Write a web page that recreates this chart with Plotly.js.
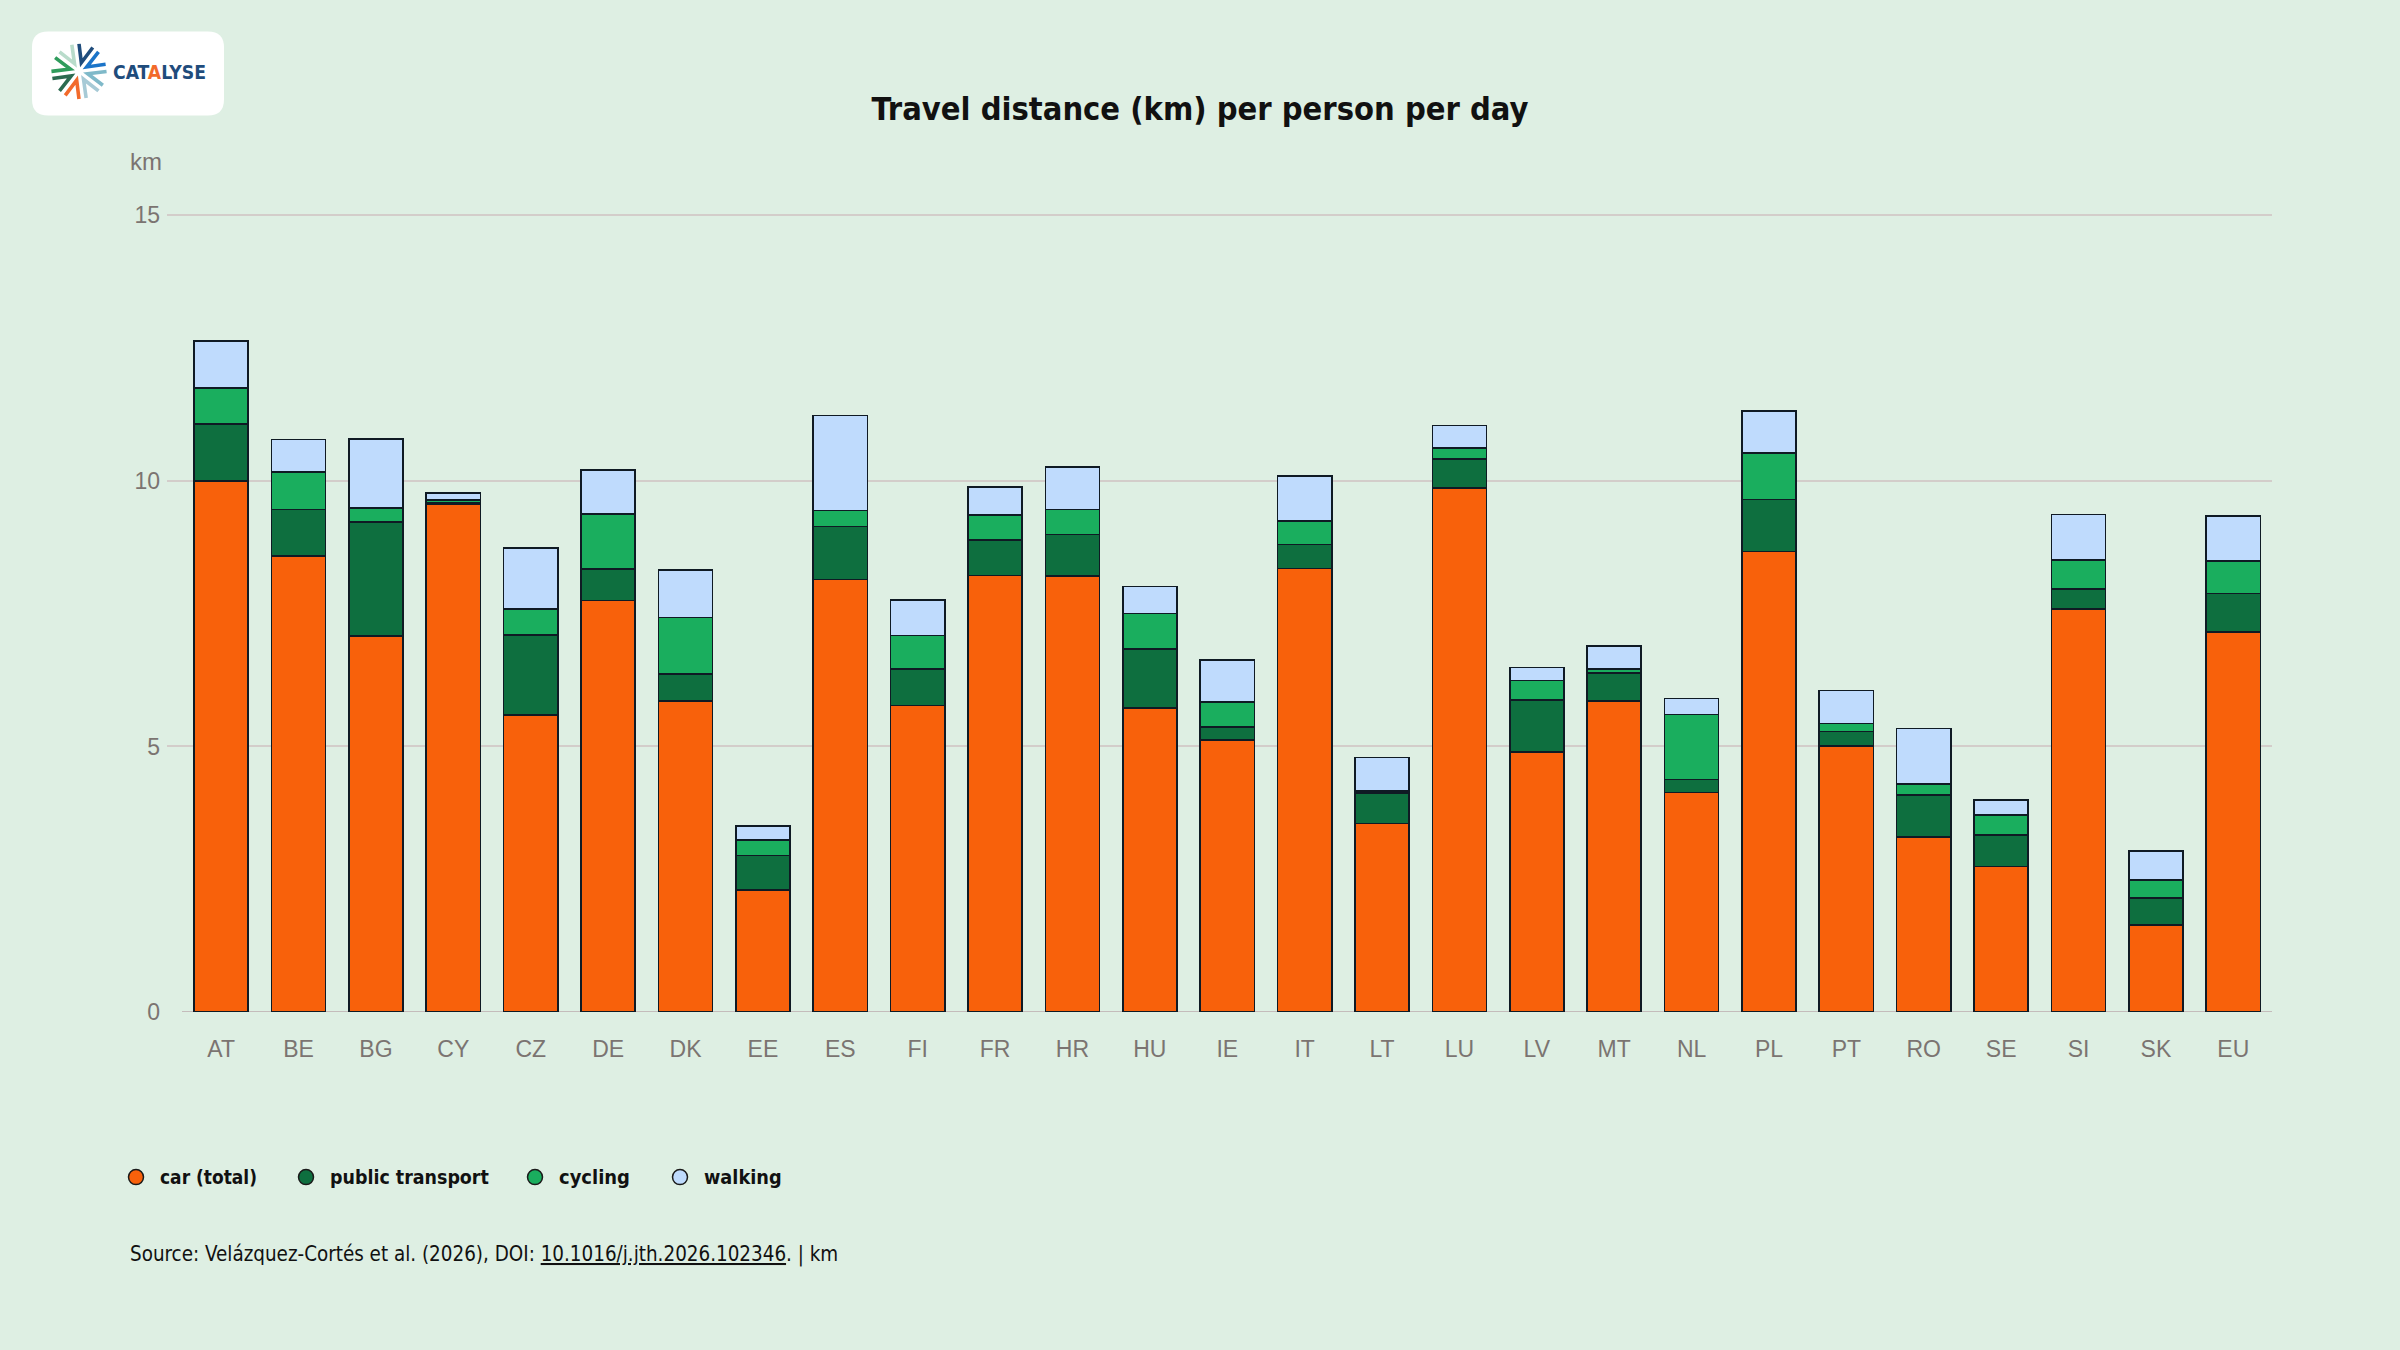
<!DOCTYPE html>
<html>
<head>
<meta charset="utf-8">
<script src="https://cdn.plot.ly/plotly-3.0.1.min.js"></script>
<style>
  html, body { margin: 0; padding: 0; background: #deefe3; }
  #chart { width: 2400px; height: 1350px; }
</style>
</head>
<body>
<div id="chart"></div>
<script>
// ---------- data ----------
const countries = ["AT","BE","BG","CY","CZ","DE","DK","EE","ES","FI","FR","HR","HU","IE","IT","LT","LU","LV","MT","NL","PL","PT","RO","SE","SI","SK","EU"];
const car       = [10.00,8.59,7.08,9.56,5.59,7.75,5.85,2.30,8.14,5.77,8.22,8.21,5.72,5.12,8.35,3.55,9.87,4.90,5.86,4.13,8.67,5.01,3.29,2.74,7.59,1.64,7.16];
const publicTr  = [1.07,0.87,2.15,0.03,1.51,0.59,0.51,0.65,1.00,0.69,0.67,0.78,1.12,0.25,0.45,0.57,0.54,0.97,0.52,0.25,0.98,0.27,0.80,0.59,0.37,0.51,0.72];
const cycling   = [0.68,0.71,0.26,0.05,0.49,1.04,1.07,0.29,0.30,0.63,0.47,0.47,0.66,0.47,0.45,0.04,0.21,0.37,0.08,1.22,0.87,0.15,0.20,0.38,0.55,0.33,0.61];
const walking   = [0.88,0.61,1.30,0.13,1.15,0.83,0.89,0.26,1.79,0.67,0.53,0.80,0.51,0.79,0.84,0.63,0.42,0.25,0.43,0.30,0.80,0.62,1.05,0.28,0.86,0.55,0.85];
const seriesNames = ["car (total)","public transport","cycling","walking"];
const yTicks = [0,5,10,15];
const titleText = "Travel distance (km) per person per day";
const unitLabel = "km";
const sourcePre = "Source: Velázquez-Cortés et al. (2026), DOI: ";
const sourceDoi = "10.1016/j.jth.2026.102346";
const sourcePost = ". | km";
const logoText = ["CAT", "A", "LYSE"];

// ---------- fonts ----------
const ctx = document.createElement("canvas").getContext("2d");
function hasFont(f) {
  const s = "abcdefghijklmnopqrstuvwxyzABCDEFGHIJ0123456789";
  for (const fb of ["monospace", "serif"]) {
    ctx.font = "40px " + fb; const a = ctx.measureText(s).width;
    ctx.font = '40px "' + f + '", ' + fb; const b = ctx.measureText(s).width;
    if (Math.abs(a - b) > 0.5) return true;
  }
  return false;
}
const narrowName = ["Liberation Sans Narrow", "DejaVu Sans Condensed", "Roboto"].find(hasFont) || "sans-serif";
const NARROW = narrowName + ", sans-serif";
const SANS = "Liberation Sans, Arial, sans-serif";
function fitSize(text, weight, target) {
  ctx.font = weight + " 100px " + (narrowName === "sans-serif" ? "sans-serif" : '"' + narrowName + '", sans-serif');
  return 100 * target / ctx.measureText(text).width;
}

// ---------- style ----------
const colors = ["#f8610b","#0e6f3f","#1aae5e","#bfdbfd"];
const BG = "#deefe3";
const W = 2400, H = 1350;
const Y0PX = 1012, Y15PX = 215.8, YTOP = 15.1;
const ML = 167, MR = 128, MB = H - Y0PX;
const MT = Y0PX - (Y0PX - Y15PX) * YTOP / 15;
const PW = W - ML - MR, PH = H - MT - MB;
const px = x => (x - ML) / PW;
const py = y => 1 - (y - MT) / PH;

const seriesData = [car, publicTr, cycling, walking];
const traces = seriesData.map((vals, i) => ({
  type: "bar",
  name: seriesNames[i],
  x: countries,
  y: vals,
  marker: { color: colors[i], line: { color: "#0f1a24", width: 1.6 } },
  showlegend: false,
  hoverinfo: "x+y+name"
}));

// ---------- logo shapes ----------
const shapes = [];
(function(){
  const x0 = 32, y0 = 32, x1 = 224, y1 = 116, r = 16;
  const p = (x, y) => px(x) + "," + py(y);
  const d = "M " + p(x0 + r, y0) + " L " + p(x1 - r, y0) + " Q " + p(x1, y0) + " " + p(x1, y0 + r) +
            " L " + p(x1, y1 - r) + " Q " + p(x1, y1) + " " + p(x1 - r, y1) +
            " L " + p(x0 + r, y1) + " Q " + p(x0, y1) + " " + p(x0, y1 - r) +
            " L " + p(x0, y0 + r) + " Q " + p(x0, y0) + " " + p(x0 + r, y0) + " Z";
  shapes.push({ type: "path", xref: "paper", yref: "paper", path: d, fillcolor: "#ffffff", line: { width: 0 }, layer: "above" });
})();
const chevrons = [
  { a: 15,  c: "#7fb9c9" },
  { a: 60,  c: "#a7cad6" },
  { a: 105, c: "#f26a2b" },
  { a: 150, c: "#2b6a50" },
  { a: 195, c: "#2f9c5c" },
  { a: 240, c: "#b9dccb" },
  { a: 285, c: "#1f4c7c" },
  { a: 330, c: "#1b74c8" }
];
const LC = { x: 79, y: 72 };
chevrons.forEach(ch => {
  const t = ch.a * Math.PI / 180, ra = 9, L = 19, phi = 22 * Math.PI / 180;
  const ax = LC.x + ra * Math.cos(t), ay = LC.y + ra * Math.sin(t);
  const e1x = ax + L * Math.cos(t + phi), e1y = ay + L * Math.sin(t + phi);
  const e2x = ax + L * Math.cos(t - phi), e2y = ay + L * Math.sin(t - phi);
  const d = "M " + px(e1x) + "," + py(e1y) + " L " + px(ax) + "," + py(ay) + " L " + px(e2x) + "," + py(e2y);
  shapes.push({ type: "path", xref: "paper", yref: "paper", path: d, line: { color: ch.c, width: 3.6 }, layer: "above" });
});
shapes.push({ type: "line", xref: "paper", yref: "y", x0: px(182), x1: 1, y0: 0, y1: 0, line: { color: "#c4bcbb", width: 2 }, layer: "below" });

// ---------- legend (manual, circles) ----------
const legendX = [136, 306, 535, 680];
const legendTextW = [97, 159, 71, 77.6];
const legendY = 1177;
const annotations = [];
seriesNames.forEach((n, i) => {
  const r = 7.5;
  shapes.push({ type: "circle", xref: "paper", yref: "paper",
    x0: px(legendX[i] - r), x1: px(legendX[i] + r), y0: py(legendY + r), y1: py(legendY - r),
    fillcolor: colors[i], line: { color: "#1a1a1a", width: 1.5 } });
  annotations.push({ xref: "paper", yref: "paper", x: px(legendX[i] + 22), y: py(legendY),
    xanchor: "left", yanchor: "middle", showarrow: false, text: "<b>" + n + "</b>",
    font: { family: NARROW, size: Math.min(26, fitSize(n, "bold", legendTextW[i])), color: "#111111" } });
});

annotations.push({ xref: "paper", yref: "paper", x: px(128), y: py(162), xanchor: "left", yanchor: "middle",
  showarrow: false, text: unitLabel, font: { family: SANS, size: 24, color: "#7b7471" } });
const srcSize = Math.min(24, fitSize(sourcePre + sourceDoi + sourcePost, "normal", 709));
annotations.push({ xref: "paper", yref: "paper", x: px(128), y: py(1254), xanchor: "left", yanchor: "middle",
  showarrow: false,
  text: sourcePre + '<span style="text-decoration:underline">' + sourceDoi + '</span>' + sourcePost,
  font: { family: NARROW, size: srcSize, color: "#111111" } });
const logoSize = Math.min(24, fitSize(logoText.join(""), "bold", 93));
annotations.push({ xref: "paper", yref: "paper", x: px(111), y: py(73), xanchor: "left", yanchor: "middle",
  showarrow: false, text: '<b>' + logoText[0] + '<span style="color:#f26a2b">' + logoText[1] + '</span>' + logoText[2] + '</b>',
  font: { family: NARROW, size: logoSize, color: "#1f4c7c" } });

const titleSize = Math.min(40, fitSize(titleText, "bold", 657));

const layout = {
  width: W, height: H,
  paper_bgcolor: BG, plot_bgcolor: BG,
  margin: { l: ML, r: MR, t: MT, b: MB, pad: 0 },
  barmode: "stack",
  bargap: 0.3,
  title: { text: "<b>" + titleText + "</b>", xref: "container", yref: "container", x: 0.5, y: 1 - 109 / H,
    xanchor: "center", yanchor: "middle", font: { family: NARROW, size: titleSize, color: "#111111" } },
  xaxis: { type: "category", range: [-0.7, 26.5], showgrid: false, showline: false, zeroline: false,
    ticks: "", tickfont: { family: SANS, size: 23, color: "#7b7471" }, ticklabelstandoff: 21, fixedrange: true },
  yaxis: { range: [0, YTOP], tickvals: yTicks, ticktext: yTicks.map(String), showgrid: true, gridcolor: "#d3cdca", gridwidth: 2,
    zeroline: false, showline: false, ticks: "", tickfont: { family: SANS, size: 23, color: "#7b7471" }, ticklabelstandoff: 6, fixedrange: true },
  shapes: shapes,
  annotations: annotations,
  showlegend: false
};

Plotly.newPlot("chart", traces, layout, { displayModeBar: false, staticPlot: true });
</script>
</body>
</html>
